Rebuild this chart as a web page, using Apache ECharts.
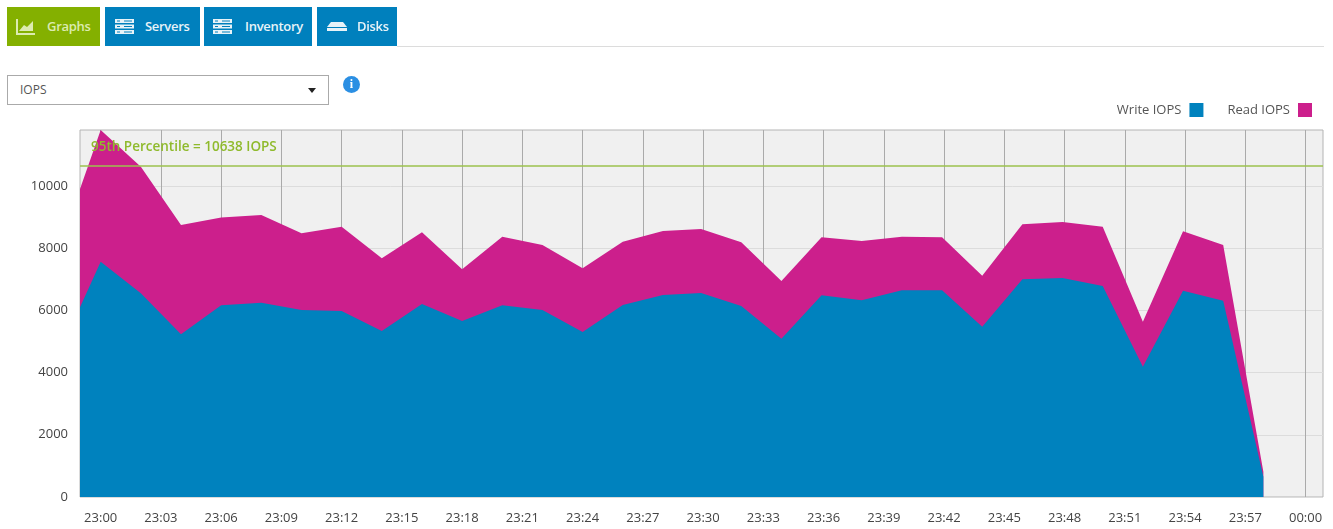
<!DOCTYPE html>
<html>
<head>
<meta charset="utf-8">
<title>IOPS</title>
<script src="https://cdn.jsdelivr.net/npm/echarts@6/dist/echarts.min.js"></script>
<style>
  body { margin: 0; background: #fff; font-family: "Open Sans", sans-serif; overflow: hidden; }
  #chart { position: absolute; left: 0; top: 0; width: 1333px; height: 529px; }
  .tab { position: absolute; top: 7px; height: 39px; background: #0080bd; color: #e8f3f8; font-size: 13px; font-weight: 600; line-height: 38px; z-index: 2; }
  .tab span { position: absolute; top: 0; white-space: nowrap; letter-spacing: -0.3px; }
  .tab svg { position: absolute; top: 11px; }
  .tab.on { background: #84b000; color: #dcebb0; }
  #rule { position: absolute; left: 397px; top: 46px; width: 927px; height: 1px; background: #dcdcdc; }
  #select { position: absolute; left: 7px; top: 75px; width: 320px; height: 28px; border: 1px solid #aaa; background: #fff; z-index: 2; color: #555; font-size: 12px; line-height: 27px; }
  #select span { position: absolute; left: 12px; }
  #arrow { position: absolute; left: 300px; top: 12px; width: 0; height: 0; border-left: 4px solid transparent; border-right: 4px solid transparent; border-top: 5px solid #222; }
  #info { position: absolute; left: 343px; top: 76px; width: 17px; height: 17px; border-radius: 50%; background: #2b8fe3; color: #fff; font: bold 12px/17px "Liberation Serif", serif; text-align: center; z-index: 2; }
</style>
</head>
<body>
<div id="chart"></div>
<div class="tab on" style="left:7px;width:93px">
  <svg style="left:9px" width="20" height="17" viewBox="0 0 20 17"><path d="M1 1V16H19" fill="none" stroke="#dcebb0" stroke-width="2"/><path d="M3 13L8 7L11 9L17 3V13Z" fill="#dcebb0"/></svg>
  <span style="left:40px">Graphs</span>
</div>
<div class="tab" style="left:105px;width:95px">
  <svg style="left:10px" width="19" height="17" viewBox="0 0 19 17"><path d="M0 1H19V5H0ZM0 6.500H19V10.500H0ZM0 12H19V16H0Z" fill="#e8f3f8"/><path d="M2 3H5M9 3H17M2 8.500H5M9 8.500H17M2 14H5M9 14H17" stroke="#0080bd"/></svg>
  <span style="left:40px">Servers</span>
</div>
<div class="tab" style="left:204px;width:108px">
  <svg style="left:9px" width="19" height="17" viewBox="0 0 19 17"><path d="M0 1H19V5H0ZM0 6.500H19V10.500H0ZM0 12H19V16H0Z" fill="#e8f3f8"/><path d="M2 3H5M9 3H17M2 8.500H5M9 8.500H17M2 14H5M9 14H17" stroke="#0080bd"/></svg>
  <span style="left:41px">Inventory</span>
</div>
<div class="tab" style="left:317px;width:80px">
  <svg style="left:10px" width="20" height="17" viewBox="0 0 20 17"><path d="M4 4H16L20 9H0Z" fill="#e8f3f8"/><path d="M0 10H20V13H0Z" fill="#e8f3f8"/></svg>
  <span style="left:40px">Disks</span>
</div>
<div id="rule"></div>
<div id="select"><span>IOPS</span><div id="arrow"></div></div>
<div id="info">i</div>
<script>
// minutes after 23:00 for each sample
var sampleMinutes = [-1.03, 0, 2, 4, 6, 8, 10, 12, 14, 16, 18, 20, 22, 24, 26, 28,
  29.9, 31.9, 33.9, 35.9, 37.9, 39.9, 41.9, 43.9, 45.9, 47.9, 49.9, 51.9, 53.9, 55.9, 57.9];
var writeIops = [6100, 7566, 6550, 5231, 6164, 6248, 6013, 5981, 5338, 6206, 5659, 6164, 6013, 5305, 6174, 6495,
  6560, 6141, 5090, 6485, 6324, 6646, 6646, 5476, 7000, 7042, 6785, 4190, 6634, 6312, 650];
var readIops = [3800, 4234, 4070, 3515, 2826, 2820, 2465, 2711, 2337, 2305, 1662, 2206, 2090, 2048, 2035, 2058,
  2057, 2048, 1855, 1865, 1908, 1724, 1704, 1640, 1768, 1800, 1907, 1447, 1909, 1791, 163];
var xTicks = [0, 3, 6, 9, 12, 15, 18, 21, 24, 27, 30, 33, 36, 39, 42, 45, 48, 51, 54, 57, 60];
var xTickLabels = ['23:00', '23:03', '23:06', '23:09', '23:12', '23:15', '23:18', '23:21', '23:24', '23:27', '23:30',
  '23:33', '23:36', '23:39', '23:42', '23:45', '23:48', '23:51', '23:54', '23:57', '00:00'];
var yTicks = [0, 2000, 4000, 6000, 8000, 10000];
var percentile95 = 10638;

var pairs = function (values) {
  return values.map(function (v, i) { return [sampleMinutes[i], v]; });
};
// echarts stacks the x dimension on a value axis, so read is summed here and drawn behind write
var readOnTop = readIops.map(function (v, i) { return v + writeIops[i]; });

var chart = echarts.init(document.getElementById('chart'));
chart.setOption({
  animation: false,
  textStyle: { fontFamily: '"Open Sans", sans-serif' },
  grid: {
    show: true, left: 80, top: 130, width: 1243, height: 367,
    backgroundColor: '#f0f0f0', borderColor: '#b4b4b4', borderWidth: 1
  },
  legend: {
    right: 21, top: 103, padding: 0, align: 'right', itemWidth: 14, itemHeight: 14, itemGap: 24,
    selectedMode: false,
    data: [
      { name: 'Write IOPS', icon: 'rect' },
      { name: 'Read IOPS', icon: 'rect' }
    ],
    textStyle: { color: '#555', fontSize: 13, padding: [0, 3, 0, 0] }
  },
  xAxis: {
    type: 'value', min: -1.03, max: 60.87,
    axisLine: { show: false },
    axisTick: { show: false, customValues: xTicks },
    splitLine: { show: true, lineStyle: { color: '#aaaaaa', width: 1 } },
    axisLabel: {
      customValues: xTicks, color: '#444', fontSize: 13, margin: 15,
      formatter: function (v) { return xTickLabels[xTicks.indexOf(v)]; }
    }
  },
  yAxis: {
    type: 'value', min: 0, max: 11800,
    axisLine: { show: false },
    axisTick: { show: false, customValues: yTicks },
    splitLine: { show: true, lineStyle: { color: '#dcdcdc', width: 1 } },
    axisLabel: {
      customValues: yTicks, color: '#444', fontSize: 13, margin: 12,
      formatter: function (v) { return String(v); }
    }
  },
  series: [
    {
      name: 'Read IOPS', type: 'line', showSymbol: false, symbol: 'none',
      data: pairs(readOnTop),
      lineStyle: { width: 0 },
      itemStyle: { color: '#cc1f8c' },
      areaStyle: { color: '#cc1f8c', opacity: 1 }
    },
    {
      name: 'Write IOPS', type: 'line', showSymbol: false, symbol: 'none',
      data: pairs(writeIops),
      lineStyle: { width: 0 },
      itemStyle: { color: '#0082be' },
      areaStyle: { color: '#0082be', opacity: 1 },
      markLine: {
        silent: true, symbol: 'none', animation: false,
        lineStyle: { color: '#9cc24e', width: 1.5, type: 'solid' },
        label: {
          show: true, position: 'insideStartTop', distance: [11, 12],
          formatter: '95th Percentile = ' + percentile95 + ' IOPS',
          color: '#8fba2c', fontSize: 13.5, fontWeight: 600
        },
        data: [{ yAxis: percentile95 }]
      }
    }
  ]
});
</script>
</body>
</html>
